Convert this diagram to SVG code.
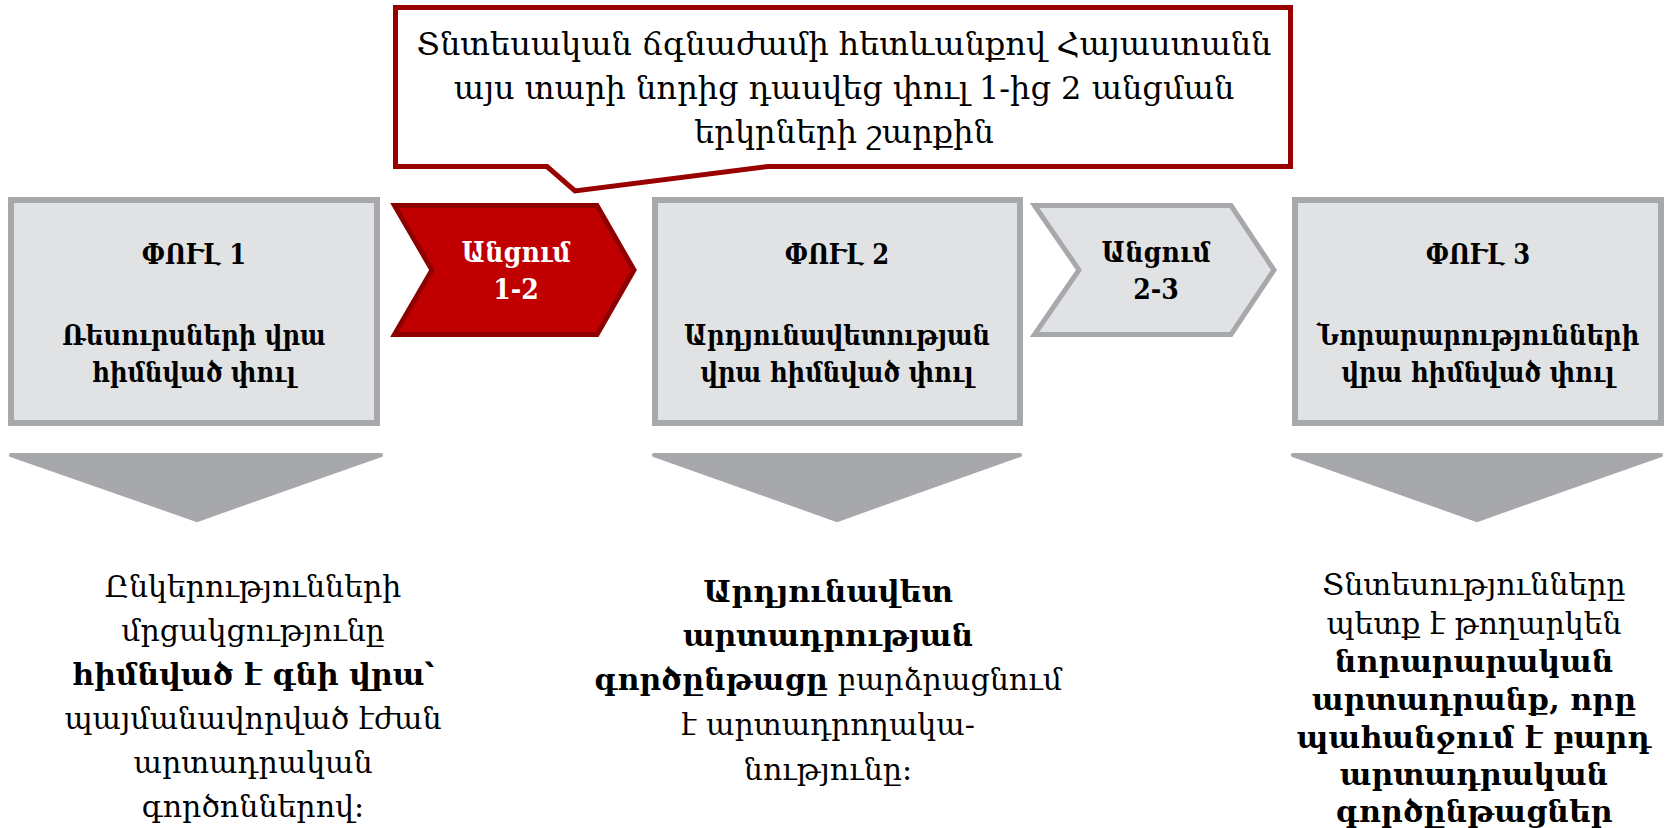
<svg xmlns="http://www.w3.org/2000/svg" width="1670" height="828" viewBox="0 0 1670 828">
<style>
.box{fill:#E1E2E4;stroke:#A7A8AB;stroke-width:6}
.chevG{fill:#E1E2E4;stroke:#A7A8AB;stroke-width:5}
.chevR{fill:#C00000;stroke:#8E0000;stroke-width:5}
.call{fill:#FFFFFF;stroke:#990000;stroke-width:5}
.tri{fill:#A7A8AB;stroke:#A7A8AB;stroke-width:4;stroke-linejoin:round}
text{font-family:"DejaVu Serif","Liberation Serif",serif;text-anchor:middle;fill:#000}
.ct{font-size:32px}
.bt{font-size:27px;font-weight:bold;font-stretch:condensed}
.ch{font-size:28px;font-weight:bold;font-stretch:condensed}
.w{fill:#FFFFFF}
.d{font-size:30px}
.b{font-weight:bold}
</style>
<g id="callout">
<path class="call" d="M395.5,7.5 H1290.5 V166.5 H768 L575,191 L547,166.5 H395.5 Z"/>
<text class="ct" x="844" y="55">Տնտեսական ճգնաժամի հետևանքով Հայաստանն</text>
<text class="ct" x="844" y="99">այս տարի նորից դասվեց փուլ 1-ից 2 անցման</text>
<text class="ct" x="844" y="143">երկրների շարքին</text>
</g>
<g id="phase1">
<rect class="box" x="11" y="200" width="366" height="223"/>
<text class="bt" x="194" y="264">ՓՈՒԼ 1</text>
<text class="bt" x="194" y="345">Ռեսուրսների վրա</text>
<text class="bt" x="194" y="382">հիմնված փուլ</text>
</g>
<g id="transition12">
<path class="chevR" d="M394.5,205.5 H597 L634,270 L597,334.5 H394.5 L432,270 Z"/>
<text class="ch w" x="516" y="262">Անցում</text>
<text class="ch w" x="516" y="299">1-2</text>
</g>
<g id="phase2">
<rect class="box" x="655" y="200" width="365" height="223"/>
<text class="bt" x="837" y="264">ՓՈՒԼ 2</text>
<text class="bt" x="837" y="345">Արդյունավետության</text>
<text class="bt" x="837" y="382">վրա հիմնված փուլ</text>
</g>
<g id="transition23">
<path class="chevG" d="M1034.5,205.5 H1231 L1274,270 L1231,334.5 H1034.5 L1079,270 Z"/>
<text class="ch" x="1156" y="262">Անցում</text>
<text class="ch" x="1156" y="299">2-3</text>
</g>
<g id="phase3">
<rect class="box" x="1295" y="200" width="366" height="223"/>
<text class="bt" x="1478" y="264">ՓՈՒԼ 3</text>
<text class="bt" x="1478" y="345">Նորարարությունների</text>
<text class="bt" x="1478" y="382">վրա հիմնված փուլ</text>
</g>
<g id="connectors">
<polygon class="tri" points="11,455 381,455 197,520"/>
<polygon class="tri" points="654,455 1020,455 837,520"/>
<polygon class="tri" points="1293,455 1661,455 1477,520"/>
</g>
<g id="desc1">
<text class="d" x="253" y="597">Ընկերությունների</text>
<text class="d" x="253" y="641">մրցակցությունը</text>
<text class="d b" x="253" y="685">հիմնված է գնի վրա՝</text>
<text class="d" x="253" y="729">պայմանավորված էժան</text>
<text class="d" x="253" y="773">արտադրական</text>
<text class="d" x="253" y="817">գործոններով։</text>
</g>
<g id="desc2">
<text class="d b" x="828" y="602">Արդյունավետ</text>
<text class="d b" x="828" y="646">արտադրության</text>
<text class="d" x="828" y="690"><tspan class="b">գործընթացը</tspan> բարձրացնում</text>
<text class="d" x="828" y="735">է արտադրողակա-</text>
<text class="d" x="828" y="780">նությունը։</text>
</g>
<g id="desc3">
<text class="d" x="1474" y="595">Տնտեսությունները</text>
<text class="d" x="1474" y="634">պետք է թողարկեն</text>
<text class="d b" x="1474" y="672">նորարարական</text>
<text class="d b" x="1474" y="710">արտադրանք, որը</text>
<text class="d b" x="1474" y="748">պահանջում է բարդ</text>
<text class="d b" x="1474" y="785">արտադրական</text>
<text class="d b" x="1474" y="822">գործընթացներ</text>
</g>
</svg>
